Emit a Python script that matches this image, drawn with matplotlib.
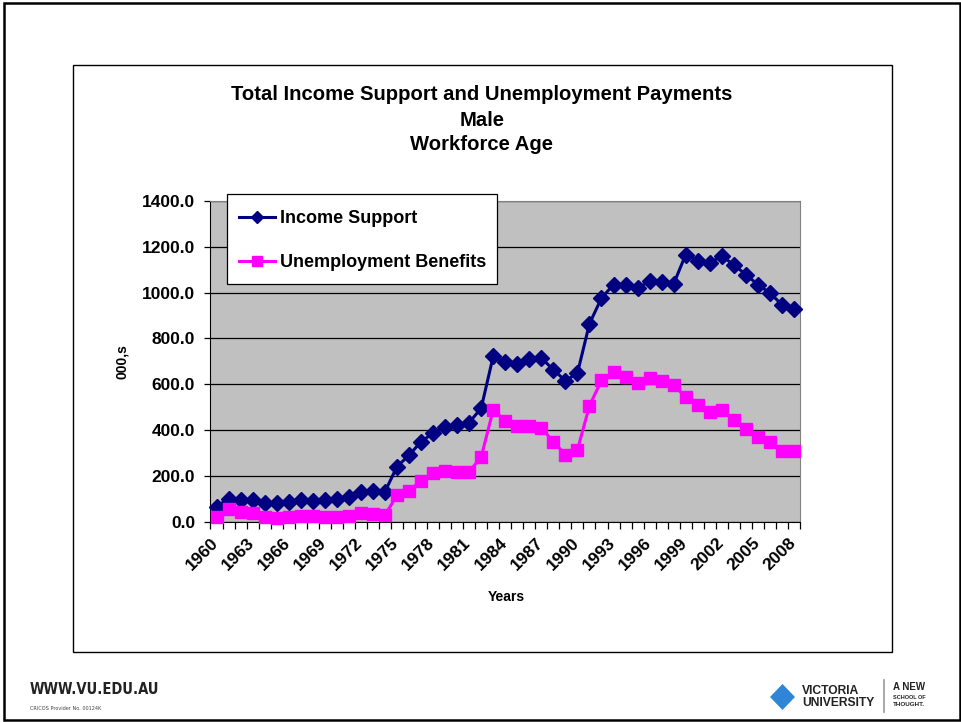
import matplotlib
matplotlib.use("Agg")
from matplotlib import pyplot as plt
from matplotlib.patches import Rectangle, Polygon
from matplotlib.transforms import ScaledTranslation

plt.rcParams['font.family'] = ['Liberation Sans', 'DejaVu Sans']

years = list(range(1960, 2009))
income_support = [65, 100, 95, 95, 82, 80, 87, 94, 90, 94, 98, 106, 128, 135, 130,
                  240, 289, 349, 386, 412, 422, 432, 495, 722, 695, 689, 710, 714,
                  663, 615, 648, 864, 976, 1035, 1035, 1020, 1049, 1045, 1038, 1166,
                  1140, 1130, 1159, 1122, 1078, 1035, 998, 947, 930]
unemployment = [21, 53, 43, 36, 21, 14, 21, 25, 25, 21, 21, 25, 36, 32, 28,
                114, 135, 177, 211, 222, 215, 218, 281, 488, 440, 418, 418, 408,
                349, 291, 313, 505, 617, 653, 633, 605, 626, 612, 597, 542,
                507, 480, 485, 444, 405, 368, 346, 310, 310]
y_ticks = [0, 200, 400, 600, 800, 1000, 1200, 1400]

W, H = 962, 722
fig = plt.figure(figsize=(W / 100, H / 100), dpi=100)

# background layer in pixel coordinates (frame, chart box, footer)
bg = fig.add_axes([0, 0, 1, 1], zorder=-5)
bg.set_xlim(0, W)
bg.set_ylim(H, 0)
bg.axis('off')
bg.add_patch(Rectangle((4, 3), 956, 717, fill=False, lw=1.8, ec='black'))
bg.add_patch(Rectangle((73, 65), 819, 587, fc='white', lw=1.0, ec='black'))

narrow = ['DejaVu Sans']
bg.text(30, 690, 'WWW.VU.EDU.AU', fontsize=10.5, fontweight='bold', color='#222222',
        family=narrow, fontstretch='condensed', va='center', ha='left')
bg.text(30, 708, 'CRICOS Provider No. 00124K', fontsize=4, color='#444444',
        family=narrow, fontstretch='condensed', va='center', ha='left')
bg.add_patch(Polygon([(770, 697), (782.5, 684), (795, 697), (782.5, 710)],
                     closed=True, fc='#2f86d6', ec='none'))
bg.text(802, 690.5, 'VICTORIA', fontsize=8.7, fontweight='bold', color='#222222',
        va='center', ha='left')
bg.text(802, 702.5, 'UNIVERSITY', fontsize=8.7, fontweight='bold', color='#222222',
        va='center', ha='left')
bg.plot([884, 884], [680, 712], color='#999999', lw=1.2)
bg.text(893, 687, 'A NEW', fontsize=7, fontweight='bold', color='#222222',
        va='center', ha='left')
bg.text(893, 697.5, 'SCHOOL OF', fontsize=4, fontweight='bold', color='#222222',
        va='center', ha='left')
bg.text(893, 705, 'THOUGHT.', fontsize=4.5, fontweight='bold', color='#222222',
        va='center', ha='left')

# titles
for txt, yy in [('Total Income Support and Unemployment Payments', 94),
                ('Male', 120), ('Workforce Age', 145)]:
    bg.text(482, yy, txt, fontsize=14.6, fontweight='bold', ha='center', va='center')

# plot area
left, right, top, bottom = 210.5, 800, 201, 521.5
ax = fig.add_axes([left / W, 1 - bottom / H, (right - left) / W, (bottom - top) / H])
ax.set_facecolor('#c0c0c0')
x = list(range(len(years)))
ax.plot(x, income_support, color='#000080', lw=2.2, marker='D', markersize=8,
        label='Income Support', clip_on=False, zorder=3)
ax.plot(x, unemployment, color='#ff00ff', lw=2.2, marker='s', markersize=9,
        label='Unemployment Benefits', clip_on=False, zorder=3)

ax.set_xlim(-0.5, len(years) - 0.5)
ax.set_ylim(0, 1400)
ax.set_yticks(y_ticks)
ax.set_yticklabels([f'{v:.1f}' for v in y_ticks], fontsize=12.5, fontweight='bold')
ax.yaxis.grid(True, color='black', lw=0.9)
ax.set_axisbelow(True)
ax.tick_params(axis='y', length=4, width=0.9, direction='out', pad=7)

ax.set_xticks([i - 0.5 for i in range(len(years) + 1)])
ax.set_xticklabels([])
ax.tick_params(axis='x', which='major', length=5, width=0.9, direction='out')
ax.set_xticks(x[::3], minor=True)
ax.set_xticklabels([str(y) for y in years[::3]], minor=True, rotation=45,
                   ha='right', va='top', rotation_mode='anchor',
                   fontsize=12.5, fontweight='bold')
ax.tick_params(axis='x', which='minor', length=0, pad=10)
shift = ScaledTranslation(-6 / 100, 0, fig.dpi_scale_trans)
for lab in ax.get_xticklabels(minor=True):
    lab.set_transform(lab.get_transform() + shift)

for s in ['top', 'right']:
    ax.spines[s].set_color('#808080')
ax.spines['left'].set_color('black')
ax.spines['bottom'].set_color('black')

fig.text(121.7 / W, 1 - 361.7 / H, '000,s', rotation=90, fontsize=10,
         fontweight='bold', ha='center', va='center')
fig.text(506 / W, 1 - 597 / H, 'Years', fontsize=10, fontweight='bold',
         ha='center', va='center')

# legend: box drawn separately so its size matches the original
fig.patches.append(Rectangle((226.7 / W, 1 - 283.5 / H), 270.3 / W, 89.5 / H,
                             transform=fig.transFigure, fc='white', ec='black',
                             lw=0.9, zorder=4))
fig.legend(loc='upper left', bbox_to_anchor=(239 / W, 1 - 210 / H),
           borderaxespad=0, borderpad=0, frameon=False,
           prop={'size': 13, 'weight': 'bold'}, handlelength=2.0,
           handletextpad=0.25, labelspacing=1.5, markerscale=0.75)

fig.savefig('out.png', dpi=100)
